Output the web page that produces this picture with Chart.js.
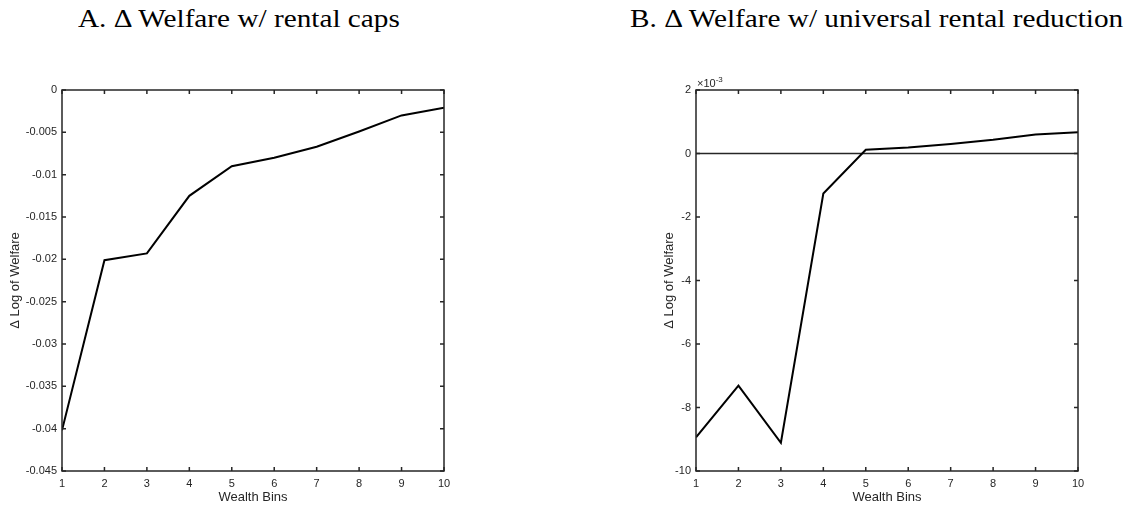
<!DOCTYPE html>
<html>
<head>
<meta charset="utf-8">
<script src="https://cdn.jsdelivr.net/npm/chart.js@4.4.1/dist/chart.umd.min.js"></script>
<style>
    body { margin: 0; background: #fff; }
    #wrap { position: relative; width: 1130px; height: 508px; overflow: hidden; }
    #wrap canvas { position: absolute; left: 0; top: 0; }
    .title { position: absolute; top: 6px; font-family: "Liberation Serif", "DejaVu Serif", serif; font-size: 25px; line-height: 1; white-space: nowrap; color: #000; transform: scaleX(1.17); transform-origin: left top; }
</style>
</head>
<body>
<div id="wrap">
    <div class="title" style="left:78px">A. &Delta; Welfare w/ rental caps</div>
    <div class="title" style="left:630px">B. &Delta; Welfare w/ universal rental reduction</div>
    <canvas id="capsChart" width="1130" height="508"></canvas>
    <canvas id="reductionChart" width="1130" height="508"></canvas>
</div>
<script>
// Wealth bins on the x axis
const wealthBins = [1, 2, 3, 4, 5, 6, 7, 8, 9, 10];

// Panel A: change in log welfare with rental caps
const capsWelfare = [-0.0402, -0.0201, -0.0193, -0.0125, -0.0090, -0.0080, -0.0067, -0.0049, -0.0030, -0.0021];

// Panel B: change in log welfare with universal rental reduction
const reductionWelfare = [-0.00894, -0.00731, -0.00911, -0.00126, 0.00012, 0.00019, 0.00030, 0.00043, 0.00060, 0.00067];

// Axis limits and tick steps
const capsTicks = { min: -0.045, max: 0, step: 0.005 };
const reductionTicks = { min: -0.010, max: 0.002, step: 0.002 };

const axisColor = '#262626';
const sans = '"Liberation Sans", Arial, sans-serif';

// MATLAB style box: frame, inward ticks on all four sides, optional zero line and exponent
const boxAxes = {
    id: 'boxAxes',
    beforeDatasetsDraw(chart, args, opts) {
        if (!opts.zeroLine) return;
        const { ctx, chartArea: a, scales: { y } } = chart;
        const y0 = y.getPixelForValue(0);
        ctx.save();
        ctx.strokeStyle = axisColor;
        ctx.lineWidth = 1.5;
        ctx.beginPath();
        ctx.moveTo(a.left, y0);
        ctx.lineTo(a.right, y0);
        ctx.stroke();
        ctx.restore();
    },
    afterDatasetsDraw(chart, args, opts) {
        const { ctx, chartArea: a, scales: { x, y } } = chart;
        const len = 4;
        ctx.save();
        ctx.strokeStyle = axisColor;
        ctx.lineWidth = 1.5;
        ctx.strokeRect(a.left, a.top, a.right - a.left, a.bottom - a.top);
        ctx.beginPath();
        x.ticks.forEach(t => {
            const px = x.getPixelForValue(t.value);
            ctx.moveTo(px, a.bottom); ctx.lineTo(px, a.bottom - len);
            ctx.moveTo(px, a.top); ctx.lineTo(px, a.top + len);
        });
        y.ticks.forEach(t => {
            const py = y.getPixelForValue(t.value);
            ctx.moveTo(a.left, py); ctx.lineTo(a.left + len, py);
            ctx.moveTo(a.right, py); ctx.lineTo(a.right - len, py);
        });
        ctx.stroke();

        if (opts.exponent) {
            ctx.fillStyle = axisColor;
            ctx.textBaseline = 'alphabetic';
            ctx.textAlign = 'left';
            ctx.font = '11px ' + sans;
            const base = '\u00d710';
            ctx.fillText(base, a.left + 1, a.top - 3);
            const w = ctx.measureText(base).width;
            ctx.font = '8px ' + sans;
            ctx.fillText(opts.exponent, a.left + 1 + w, a.top - 8);
        }
        ctx.restore();
    }
};

function makePanel(canvasId, values, ticks, layout) {
    const ctx = document.getElementById(canvasId).getContext('2d');
    return new Chart(ctx, {
        type: 'line',
        data: {
            datasets: [{
                data: wealthBins.map((b, i) => ({ x: b, y: values[i] })),
                borderColor: '#000',
                borderWidth: 2,
                pointRadius: 0,
                tension: 0,
                fill: false
            }]
        },
        options: {
            responsive: false,
            animation: false,
            events: [],
            layout: { padding: layout.padding },
            plugins: {
                legend: { display: false },
                tooltip: { enabled: false },
                boxAxes: { zeroLine: layout.zeroLine, exponent: layout.exponent }
            },
            scales: {
                x: {
                    type: 'linear',
                    min: 1,
                    max: 10,
                    grid: { display: false, drawTicks: false },
                    border: { display: false },
                    ticks: { stepSize: 1, padding: 6, color: axisColor, font: { family: sans, size: 11 }, maxRotation: 0 },
                    title: { display: true, text: 'Wealth Bins', color: axisColor, font: { family: sans, size: 13 }, padding: { top: 0, bottom: 3 } },
                    afterFit: s => { s.height = 37; }
                },
                y: {
                    min: ticks.min,
                    max: ticks.max,
                    grid: { display: false, drawTicks: false },
                    border: { display: false },
                    ticks: {
                        stepSize: ticks.step,
                        padding: 5,
                        color: axisColor,
                        font: { family: sans, size: 11 },
                        callback: layout.tickFormat
                    },
                    title: { display: true, text: '\u0394 Log of Welfare', color: axisColor, font: { family: sans, size: 13 }, padding: { top: layout.titlePad, bottom: 0 } },
                    afterFit: s => { s.width = layout.yWidth; }
                }
            }
        },
        plugins: [boxAxes]
    });
}

makePanel('capsChart', capsWelfare, capsTicks, {
    padding: { left: 0, top: 90, right: 1130 - 444, bottom: 0 },
    yWidth: 62,
    titlePad: 8,
    zeroLine: false,
    exponent: null,
    tickFormat: v => String(Math.round(v * 1000) / 1000)
});

makePanel('reductionChart', reductionWelfare, reductionTicks, {
    padding: { left: 646, top: 90, right: 1130 - 1078, bottom: 0 },
    yWidth: 50,
    titlePad: 16,
    zeroLine: true,
    exponent: '-3',
    tickFormat: v => String(Math.round(v * 1000))
});
</script>
</body>
</html>
